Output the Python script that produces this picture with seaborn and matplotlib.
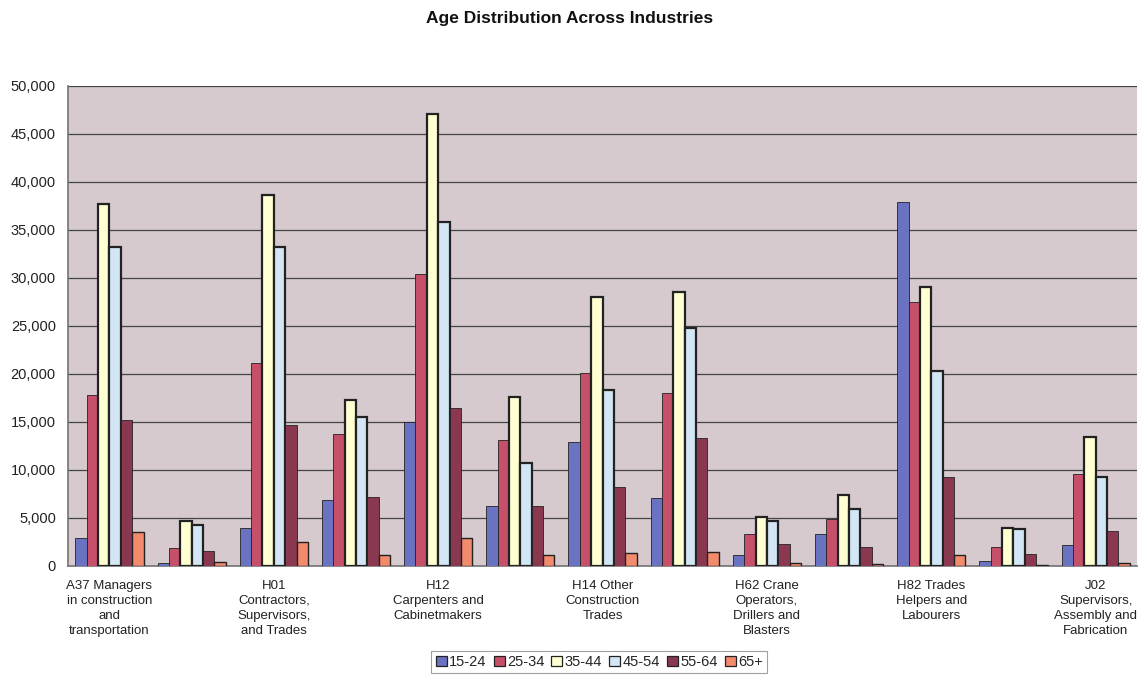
import matplotlib
matplotlib.use("Agg")
import matplotlib.pyplot as plt
import seaborn as sns
import pandas as pd
import numpy as np
from matplotlib.ticker import FuncFormatter, MultipleLocator

# ---- data ----
industries = ["A37", "I02", "H01", "I04", "H12", "I06", "H14", "I08",
              "H62", "I10", "H82", "I12", "J02"]
tick_labels = [
    "A37 Managers\nin construction\nand\ntransportation", "",
    "H01\nContractors,\nSupervisors,\nand Trades", "",
    "H12\nCarpenters and\nCabinetmakers", "",
    "H14 Other\nConstruction\nTrades", "",
    "H62 Crane\nOperators,\nDrillers and\nBlasters", "",
    "H82 Trades\nHelpers and\nLabourers", "",
    "J02\nSupervisors,\nAssembly and\nFabrication",
]
age_groups = ["15-24", "25-34", "35-44", "45-54", "55-64", "65+"]
age_15_24 = [2900, 300, 4000, 6900, 15000, 6200, 12900, 7100, 1150, 3300, 37900, 500, 2200]
age_25_34 = [17800, 1900, 21100, 13700, 30400, 13100, 20100, 18000, 3300, 4900, 27500, 2000, 9600]
age_35_44 = [37700, 4700, 38600, 17300, 47100, 17600, 28000, 28500, 5100, 7400, 29100, 4000, 13400]
age_45_54 = [33200, 4300, 33200, 15500, 35800, 10700, 18300, 24800, 4700, 5900, 20300, 3800, 9300]
age_55_64 = [15200, 1600, 14700, 7200, 16500, 6200, 8200, 13300, 2250, 2000, 9300, 1200, 3600]
age_65_plus = [3500, 450, 2500, 1100, 2900, 1100, 1400, 1450, 300, 200, 1100, 60, 350]

series = [age_15_24, age_25_34, age_35_44, age_45_54, age_55_64, age_65_plus]
df = pd.DataFrame({
    "Industry": np.repeat(industries, len(age_groups)),
    "Age": age_groups * len(industries),
    "Count": [series[j][i] for i in range(len(industries)) for j in range(len(age_groups))],
})

colors = ["#6A72C2", "#C6506A", "#FFFFD2", "#D2E6F6", "#8A3850", "#F28A6C"]
edge_w = [0.6, 0.6, 1.6, 1.6, 0.6, 1.0]

sns.set_theme(style="white")
plt.rcParams["font.family"] = ["Liberation Sans", "DejaVu Sans"]

fig = plt.figure(figsize=(11.39, 6.77), dpi=100)
ax = fig.add_axes([0.060, 0.164, 0.938, 0.709])
ax.set_facecolor("#D6CACF")

sns.barplot(data=df, x="Industry", y="Count", hue="Age", order=industries,
            hue_order=age_groups, palette=colors, width=0.83, saturation=1,
            ax=ax, zorder=3, legend=True)

for cont, lw in zip(ax.containers, edge_w):
    for p in cont:
        p.set_edgecolor("#222222")
        p.set_linewidth(lw)

ax.set_ylim(0, 50000)
ax.set_xlim(-0.5, len(industries) - 0.5)
ax.yaxis.set_major_locator(MultipleLocator(5000))
ax.yaxis.set_major_formatter(FuncFormatter(lambda v, p: f"{int(v):,}"))
ax.grid(axis="y", color="#444444", linewidth=0.9, zorder=0)
ax.set_axisbelow(True)
ax.set_xlabel("")
ax.set_ylabel("")
ax.set_xticks(range(len(industries)))
ax.set_xticklabels(tick_labels, fontsize=9.5, color="#222222", linespacing=1.32, va="top")
ax.tick_params(axis="x", length=0, pad=10)
ax.tick_params(axis="y", labelsize=10.5, colors="#222222", length=0, pad=9)
for s in ["top", "right"]:
    ax.spines[s].set_visible(False)
ax.spines["left"].set_color("#777777")
ax.spines["bottom"].set_color("#777777")

fig.text(0.5, 0.972, "Age Distribution Across Industries", ha="center", va="center",
         fontsize=12.5, fontweight="bold", color="#111111")

leg = ax.legend(loc="center", bbox_to_anchor=(0.497, -0.200), ncol=6, frameon=True,
                fontsize=10.5, handlelength=0.75, handleheight=0.75, handletextpad=0.15,
                columnspacing=0.5, borderpad=0.3, fancybox=False, edgecolor="#888888")
leg.get_frame().set_linewidth(0.8)
for h in leg.legend_handles:
    h.set_edgecolor("#222222")
    h.set_linewidth(0.9)

fig.savefig("out.png", dpi=100, facecolor="white")
